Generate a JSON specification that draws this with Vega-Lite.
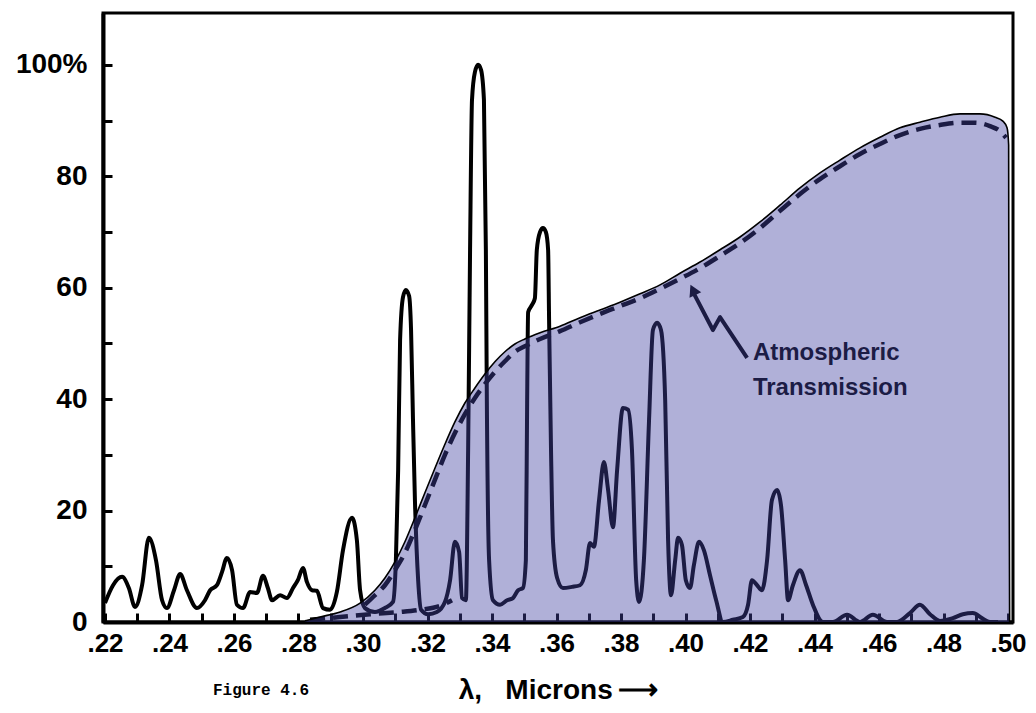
{
  "$schema": "https://vega.github.io/schema/vega-lite/v6.json",
  "width": 910,
  "height": 609,
  "autosize": "none",
  "padding": {"left": 103, "top": 13, "right": 23, "bottom": 91},
  "background": "white",
  "config": {
    "view": {"stroke": "black", "strokeWidth": 3},
    "axis": {"grid": false}
  },
  "title": {
    "text": "Figure 4.6",
    "orient": "bottom",
    "anchor": "start",
    "frame": "group",
    "font": "Liberation Mono",
    "fontSize": 16,
    "fontWeight": "bold",
    "color": "black",
    "dx": 110,
    "offset": -22
  },
  "datasets": {
    "spectrum": [
      {"w":0.2200,"v":3.4},{"w":0.2225,"v":6.6},{"w":0.2253,"v":8.1},{"w":0.2274,"v":6.1},{"w":0.2293,"v":2.7},
      {"w":0.2315,"v":6.6},{"w":0.2336,"v":15.1},{"w":0.2358,"v":11.1},{"w":0.2377,"v":3.9},{"w":0.2392,"v":2.5},
      {"w":0.2414,"v":5.7},{"w":0.2433,"v":8.6},{"w":0.2454,"v":5.7},{"w":0.2485,"v":2.5},{"w":0.2510,"v":3.9},
      {"w":0.2526,"v":5.7},{"w":0.2547,"v":6.6},{"w":0.2563,"v":9.0},{"w":0.2578,"v":11.5},{"w":0.2594,"v":9.3},
      {"w":0.2609,"v":3.1},{"w":0.2628,"v":2.5},{"w":0.2650,"v":5.4},{"w":0.2671,"v":5.2},{"w":0.2690,"v":8.3},
      {"w":0.2705,"v":6.1},{"w":0.2718,"v":3.9},{"w":0.2743,"v":4.8},{"w":0.2764,"v":4.3},{"w":0.2783,"v":6.1},
      {"w":0.2798,"v":7.5},{"w":0.2814,"v":9.7},{"w":0.2826,"v":7.2},{"w":0.2842,"v":5.7},{"w":0.2857,"v":5.6},
      {"w":0.2876,"v":2.5},{"w":0.2898,"v":2.2},{"w":0.2919,"v":5.4},{"w":0.2938,"v":12.9},{"w":0.2966,"v":18.7},
      {"w":0.2981,"v":14.7},{"w":0.2991,"v":5.7},{"w":0.3006,"v":2.5},{"w":0.3037,"v":1.8},{"w":0.3068,"v":2.5},
      {"w":0.3093,"v":3.6},{"w":0.3102,"v":11.1},{"w":0.3109,"v":27.3},{"w":0.3115,"v":50.6},{"w":0.3124,"v":58.3},
      {"w":0.3133,"v":59.6},{"w":0.3143,"v":58.5},{"w":0.3149,"v":52.4},{"w":0.3155,"v":36.3},{"w":0.3161,"v":21.9},
      {"w":0.3171,"v":7.5},{"w":0.3180,"v":2.2},{"w":0.3202,"v":1.4},{"w":0.3229,"v":1.8},{"w":0.3254,"v":3.6},
      {"w":0.3270,"v":7.5},{"w":0.3285,"v":14.4},{"w":0.3298,"v":12.6},{"w":0.3307,"v":4.3},{"w":0.3319,"v":3.9},
      {"w":0.3326,"v":30.9},{"w":0.3332,"v":66.8},{"w":0.3338,"v":93.7},{"w":0.3347,"v":98.7},{"w":0.3357,"v":100},
      {"w":0.3366,"v":99.1},{"w":0.3375,"v":93.7},{"w":0.3381,"v":66.8},{"w":0.3384,"v":39.8},{"w":0.3391,"v":11.1},
      {"w":0.3403,"v":3.9},{"w":0.3425,"v":3.1},{"w":0.3447,"v":3.9},{"w":0.3465,"v":4.3},{"w":0.3481,"v":5.7},
      {"w":0.3496,"v":6.1},{"w":0.3505,"v":11.1},{"w":0.3509,"v":39.8},{"w":0.3512,"v":55.6},{"w":0.3524,"v":56.9},
      {"w":0.3533,"v":58.1},{"w":0.3539,"v":66.8},{"w":0.3549,"v":70},{"w":0.3558,"v":70.7},{"w":0.3567,"v":70},
      {"w":0.3574,"v":66.8},{"w":0.3577,"v":54.2},{"w":0.3583,"v":30.9},{"w":0.3589,"v":14.7},{"w":0.3602,"v":7.9},
      {"w":0.3620,"v":6.1},{"w":0.3648,"v":6.3},{"w":0.3673,"v":6.6},{"w":0.3691,"v":9.3},{"w":0.3704,"v":14.2},
      {"w":0.3716,"v":13.5},{"w":0.3732,"v":21.9},{"w":0.3747,"v":28.7},{"w":0.3760,"v":23.7},{"w":0.3775,"v":17},
      {"w":0.3788,"v":27.3},{"w":0.3806,"v":38.4},{"w":0.3822,"v":38.1},{"w":0.3834,"v":30.9},{"w":0.3847,"v":7.5},
      {"w":0.3856,"v":3.6},{"w":0.3871,"v":11.1},{"w":0.3887,"v":36.3},{"w":0.3899,"v":52.4},{"w":0.3912,"v":53.7},
      {"w":0.3924,"v":52.4},{"w":0.3937,"v":39.8},{"w":0.3946,"v":14.7},{"w":0.3955,"v":4.8},{"w":0.3968,"v":11.1},
      {"w":0.3977,"v":15.1},{"w":0.3989,"v":13.8},{"w":0.4001,"v":7.5},{"w":0.4014,"v":6.1},{"w":0.4026,"v":10.2},
      {"w":0.4042,"v":14.4},{"w":0.4057,"v":12.9},{"w":0.4076,"v":8.4},{"w":0.4095,"v":3.9},{"w":0.4116,"v":0},
      {"w":0.4147,"v":0.4},{"w":0.4178,"v":0.9},{"w":0.4194,"v":3.1},{"w":0.4206,"v":7.5},{"w":0.4222,"v":6.6},
      {"w":0.4237,"v":5.7},{"w":0.4253,"v":11.1},{"w":0.4268,"v":21.9},{"w":0.4284,"v":23.7},{"w":0.4296,"v":21},
      {"w":0.4309,"v":11.1},{"w":0.4318,"v":3.9},{"w":0.4333,"v":6.6},{"w":0.4355,"v":9.3},{"w":0.4374,"v":6.6},
      {"w":0.4395,"v":3.1},{"w":0.4426,"v":0},{"w":0.4457,"v":0},{"w":0.4501,"v":1.3},{"w":0.4541,"v":0},
      {"w":0.4581,"v":1.3},{"w":0.4625,"v":0},{"w":0.4656,"v":0},{"w":0.4696,"v":1.6},{"w":0.4727,"v":3.1},
      {"w":0.4758,"v":1.4},{"w":0.4789,"v":0.2},{"w":0.4829,"v":0.7},{"w":0.4860,"v":1.4},{"w":0.4891,"v":1.6},
      {"w":0.4919,"v":0.7},{"w":0.4944,"v":0},{"w":0.4969,"v":0}
    ],
    "envelope": [
      {"w":0.2820,"v":0.2},{"w":0.2867,"v":0.9},{"w":0.2929,"v":1.8},{"w":0.2991,"v":3.4},{"w":0.3037,"v":5.7},
      {"w":0.3068,"v":7.9},{"w":0.3099,"v":10.8},{"w":0.3130,"v":14.4},{"w":0.3161,"v":18.7},{"w":0.3192,"v":23.2},
      {"w":0.3223,"v":27.6},{"w":0.3254,"v":31.9},{"w":0.3285,"v":35.9},{"w":0.3316,"v":39.3},{"w":0.3347,"v":42},
      {"w":0.3378,"v":44.5},{"w":0.3409,"v":46.7},{"w":0.3440,"v":48.5},{"w":0.3471,"v":49.9},{"w":0.3502,"v":50.8},
      {"w":0.3549,"v":51.9},{"w":0.3611,"v":53.1},{"w":0.3673,"v":54.6},{"w":0.3735,"v":56},{"w":0.3797,"v":57.4},
      {"w":0.3859,"v":58.9},{"w":0.3921,"v":60.5},{"w":0.3983,"v":62.6},{"w":0.4045,"v":64.6},{"w":0.4107,"v":66.8},
      {"w":0.4169,"v":69.1},{"w":0.4231,"v":71.8},{"w":0.4293,"v":74.8},{"w":0.4355,"v":77.9},{"w":0.4417,"v":80.6},
      {"w":0.4479,"v":82.9},{"w":0.4541,"v":85.1},{"w":0.4603,"v":87},{"w":0.4665,"v":88.7},{"w":0.4727,"v":89.7},
      {"w":0.4789,"v":90.6},{"w":0.4851,"v":91.2},{"w":0.4913,"v":91.2},{"w":0.4960,"v":90.6},{"w":0.4984,"v":89.9},
      {"w":0.4997,"v":88.7},{"w":0.5002,"v":85.6},{"w":0.5003,"v":39.8},{"w":0.5005,"v":0}
    ],
    "dashed": [
      {"part":"main","w":0.3006,"v":3.1},{"part":"main","w":0.3037,"v":4.8},{"part":"main","w":0.3068,"v":6.6},
      {"part":"main","w":0.3099,"v":9.3},{"part":"main","w":0.3130,"v":12.4},{"part":"main","w":0.3161,"v":16.5},
      {"part":"main","w":0.3192,"v":21},{"part":"main","w":0.3223,"v":25.5},{"part":"main","w":0.3254,"v":30},
      {"part":"main","w":0.3285,"v":33.9},{"part":"main","w":0.3316,"v":37.3},{"part":"main","w":0.3347,"v":40.2},
      {"part":"main","w":0.3378,"v":42.7},{"part":"main","w":0.3409,"v":44.9},{"part":"main","w":0.3440,"v":46.8},
      {"part":"main","w":0.3471,"v":48.5},{"part":"main","w":0.3502,"v":49.5},{"part":"main","w":0.3549,"v":50.8},
      {"part":"main","w":0.3611,"v":52.2},{"part":"main","w":0.3673,"v":53.8},{"part":"main","w":0.3735,"v":55.3},
      {"part":"main","w":0.3797,"v":56.7},{"part":"main","w":0.3859,"v":58.1},{"part":"main","w":0.3921,"v":59.8},
      {"part":"main","w":0.3983,"v":61.6},{"part":"main","w":0.4045,"v":63.5},{"part":"main","w":0.4107,"v":65.7},
      {"part":"main","w":0.4169,"v":68},{"part":"main","w":0.4231,"v":70.7},{"part":"main","w":0.4293,"v":73.8},
      {"part":"main","w":0.4355,"v":76.8},{"part":"main","w":0.4417,"v":79.5},{"part":"main","w":0.4479,"v":81.8},
      {"part":"main","w":0.4541,"v":84},{"part":"main","w":0.4603,"v":85.8},{"part":"main","w":0.4665,"v":87.4},
      {"part":"main","w":0.4727,"v":88.5},{"part":"main","w":0.4789,"v":89.2},{"part":"main","w":0.4851,"v":89.6},
      {"part":"main","w":0.4898,"v":89.6},{"part":"main","w":0.4944,"v":89},{"part":"main","w":0.4975,"v":88.1},
      {"part":"main","w":0.4994,"v":86.9},
      {"part":"low","w":0.2836,"v":0.4},{"part":"low","w":0.2929,"v":0.9},{"part":"low","w":0.3022,"v":1.4},
      {"part":"low","w":0.3115,"v":1.8},{"part":"low","w":0.3177,"v":2.2},{"part":"low","w":0.3239,"v":2.9},
      {"part":"low","w":0.3276,"v":3.9}
    ],
    "arrow": [
      {"o":1,"w":0.4191,"v":47.4},{"o":2,"w":0.4107,"v":54.7},{"o":3,"w":0.4085,"v":52.4},{"o":4,"w":0.4020,"v":59.6}
    ],
    "arrowhead": [
      {"w":0.4023,"v":59.6}
    ],
    "notes": [
      {"w":0.4209,"v":47,"t":"Atmospheric"},
      {"w":0.4209,"v":40.7,"t":"Transmission"}
    ]
  },
  "encoding": {
    "x": {
      "field": "w",
      "type": "quantitative",
      "scale": {"domain": [0.21938, 0.50155], "nice": false, "zero": false},
      "axis": {
        "values": [0.22,0.23,0.24,0.25,0.26,0.27,0.28,0.29,0.30,0.31,0.32,0.33,0.34,0.35,0.36,0.37,0.38,0.39,0.40,0.41,0.42,0.43,0.44,0.45,0.46,0.47,0.48,0.49,0.50],
        "labelExpr": "round(datum.value*100) % 2 === 0 ? replace(format(datum.value, '.2f'), '0.', '.') : ''",
        "tickSize": -9,
        "tickWidth": 3,
        "tickColor": "black",
        "domainColor": "black",
        "domainWidth": 4,
        "labelFont": "Liberation Sans",
        "labelFontWeight": "bold",
        "labelFontSize": 26,
        "labelColor": "black",
        "labelPadding": 17,
        "labelFlush": false,
        "labelOverlap": false,
        "title": "λ,\u00a0\u00a0\u00a0Microns\u2009⟶",
        "titleFont": "Liberation Sans",
        "titleFontWeight": "bold",
        "titleFontSize": 28,
        "titleColor": "black",
        "titlePadding": 20
      }
    },
    "y": {
      "field": "v",
      "type": "quantitative",
      "scale": {"domain": [0, 109.3], "nice": false, "zero": true},
      "axis": {
        "values": [0,10,20,30,40,50,60,70,80,90,100],
        "labelExpr": "datum.value % 20 === 0 ? (datum.value === 100 ? '100%' : '' + datum.value) : ''",
        "tickSize": -9,
        "tickWidth": 3,
        "tickColor": "black",
        "domainColor": "black",
        "domainWidth": 4,
        "labelFont": "Liberation Sans",
        "labelFontWeight": "bold",
        "labelFontSize": 28,
        "labelColor": "black",
        "labelPadding": 25,
        "labelOverlap": false,
        "labelFlush": false,
        "title": null
      }
    }
  },
  "layer": [
    {
      "data": {"name": "spectrum"},
      "mark": {"type": "line", "color": "black", "strokeWidth": 4, "interpolate": "monotone", "strokeJoin": "round"}
    },
    {
      "data": {"name": "dashed"},
      "mark": {"type": "line", "color": "black", "strokeWidth": 4.5, "strokeDash": [15, 8], "interpolate": "monotone"},
      "encoding": {"detail": {"field": "part"}}
    },
    {
      "data": {"name": "arrow"},
      "mark": {"type": "line", "color": "black", "strokeWidth": 4, "strokeJoin": "round"},
      "encoding": {"order": {"field": "o"}}
    },
    {
      "data": {"name": "arrowhead"},
      "mark": {"type": "point", "shape": "triangle-up", "filled": true, "color": "black", "size": 170, "angle": 334, "opacity": 1}
    },
    {
      "data": {"name": "notes"},
      "mark": {"type": "text", "align": "left", "baseline": "alphabetic", "font": "Liberation Sans", "fontWeight": "bold", "fontSize": 24, "color": "black"},
      "encoding": {"text": {"field": "t"}}
    },
    {
      "data": {"name": "envelope"},
      "mark": {"type": "area", "color": "#4343a2", "opacity": 0.42, "interpolate": "monotone"}
    },
    {
      "data": {"name": "envelope"},
      "mark": {"type": "line", "color": "black", "strokeWidth": 1.6, "interpolate": "monotone"}
    }
  ]
}
